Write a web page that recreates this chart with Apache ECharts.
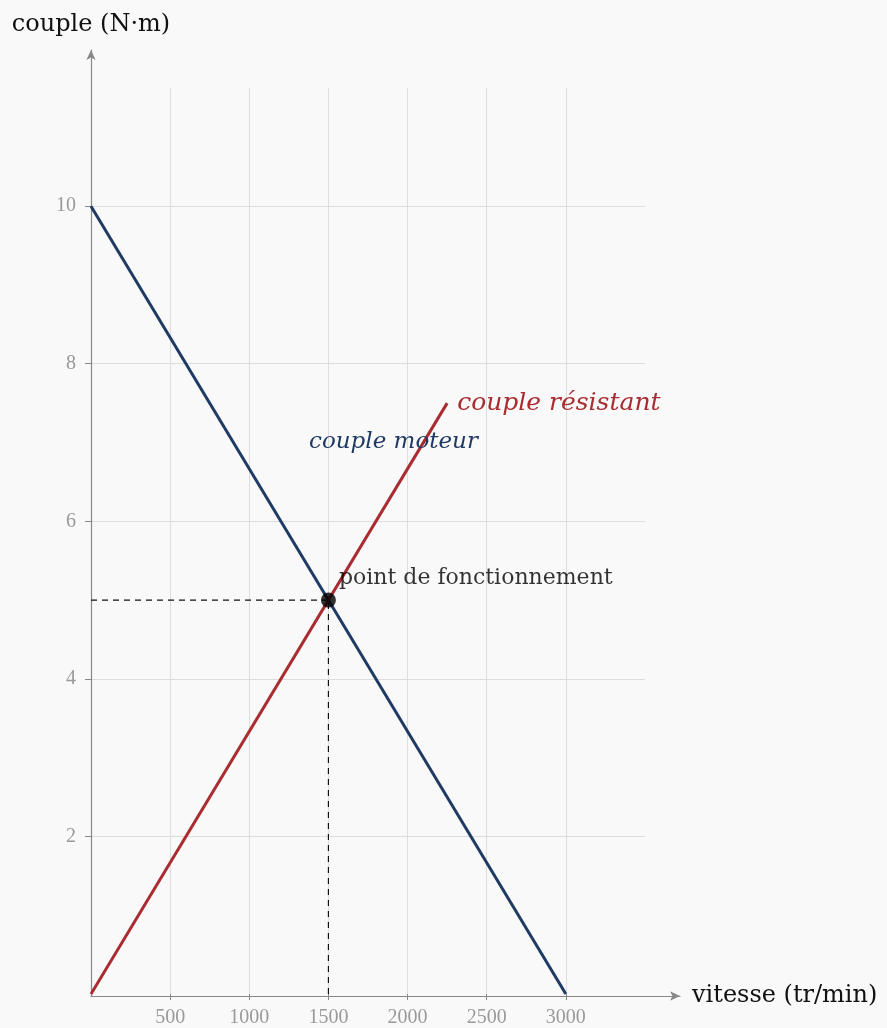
<!DOCTYPE html>
<html><head><meta charset="utf-8">
<script src="https://cdn.jsdelivr.net/npm/echarts@6/dist/echarts.min.js"></script>
<style>html,body{margin:0;padding:0;background:#f9f9f9}#c{width:887px;height:1028px}</style>
</head><body><div id="c"></div>
<script>
const xTicks = [500, 1000, 1500, 2000, 2500, 3000];
const yTicks = [2, 4, 6, 8, 10];
const moteurX = [0, 3000];
const moteurY = [10, 0];
const resistantX = [0, 2250];
const resistantY = [0, 7.5];
const pointFonct = [1500, 5];
const labelMoteurPos = [1911, 7.0];
const xName = 'vitesse (tr/min)';
const yName = 'couple (N·m)';

const SERIF = '"Liberation Serif", serif';
const WSERIF = '"DejaVu Serif", serif';
const BLUE = '#1f3a63';
const RED = '#a82c30';

const chart = echarts.init(document.getElementById('c'), null, {renderer: 'canvas'});
chart.setOption({
  backgroundColor: '#f9f9f9',
  animation: false,
  grid: [
    {left: 91, right: 242, top: 88, bottom: 32},
    {left: 91, right: 207, top: 50, bottom: 32}
  ],
  xAxis: [
    {gridIndex: 0, type: 'value', min: 0, max: 3500, interval: 500,
     axisLine: {show: false},
     axisTick: {show: true, length: 6, lineStyle: {color: '#888'}, customValues: xTicks},
     axisLabel: {color: '#999', fontFamily: SERIF, fontSize: 20, margin: 14,
       customValues: xTicks, formatter: v => String(v)},
     splitLine: {lineStyle: {color: '#ddd', width: 1}}},
    {gridIndex: 1, type: 'value', min: 0, max: 3730,
     axisLine: {show: true, lineStyle: {color: '#888', width: 1.2},
       symbol: ['none', 'arrow'], symbolSize: [7, 10]},
     axisTick: {show: false}, axisLabel: {show: false}, splitLine: {show: false},
     name: xName, nameLocation: 'end', nameGap: 12,
     nameTextStyle: {color: '#111', fontFamily: WSERIF, fontSize: 24, align: 'left', verticalAlign: 'middle'}}
  ],
  yAxis: [
    {gridIndex: 0, type: 'value', min: 0, max: 11.5, interval: 2,
     axisLine: {show: false},
     axisTick: {show: true, length: 6, lineStyle: {color: '#888'}, customValues: yTicks},
     axisLabel: {color: '#999', fontFamily: SERIF, fontSize: 20, margin: 15,
       customValues: yTicks, formatter: v => String(v)},
     splitLine: {lineStyle: {color: '#ddd', width: 1}}},
    {gridIndex: 1, type: 'value', min: 0, max: 12,
     axisLine: {show: true, lineStyle: {color: '#888', width: 1.2},
       symbol: ['none', 'arrow'], symbolSize: [7, 10]},
     axisTick: {show: false}, axisLabel: {show: false}, splitLine: {show: false},
     name: yName, nameLocation: 'end', nameGap: 13,
     nameTextStyle: {color: '#111', fontFamily: WSERIF, fontSize: 24, align: 'center', verticalAlign: 'bottom'}}
  ],
  series: [
    {type: 'line', xAxisIndex: 0, yAxisIndex: 0, symbol: 'none',
     data: [[0, pointFonct[1]], pointFonct],
     lineStyle: {color: '#111', width: 1.2, type: [6, 5]}, z: 1},
    {type: 'line', xAxisIndex: 0, yAxisIndex: 0, symbol: 'none',
     data: [[pointFonct[0], 0], pointFonct],
     lineStyle: {color: '#111', width: 1.2, type: [6, 5]}, z: 1},
    {type: 'line', name: 'couple moteur', xAxisIndex: 0, yAxisIndex: 0, symbol: 'none',
     data: moteurX.map((x, i) => [x, moteurY[i]]),
     lineStyle: {color: BLUE, width: 3}, z: 3,
     markPoint: {symbol: 'circle', symbolSize: 0,
       data: [{coord: labelMoteurPos, value: 'couple moteur'}],
       label: {show: true, position: 'inside', formatter: 'couple moteur', color: BLUE,
         fontFamily: WSERIF, fontStyle: 'italic', fontSize: 23}}},
    {type: 'line', name: 'couple résistant', xAxisIndex: 0, yAxisIndex: 0, symbol: 'none',
     data: resistantX.map((x, i) => [x, resistantY[i]]),
     lineStyle: {color: RED, width: 3}, z: 3,
     endLabel: {show: true, formatter: 'couple résistant', color: RED, distance: 10,
       fontFamily: WSERIF, fontStyle: 'italic', fontSize: 25}},
    {type: 'scatter', xAxisIndex: 0, yAxisIndex: 0, symbol: 'circle', symbolSize: 15,
     data: [pointFonct], itemStyle: {color: '#000'}, z: 5,
     label: {show: true, position: 'right', distance: 3, offset: [0, -22],
       formatter: 'point de fonctionnement', color: '#000', fontFamily: WSERIF, fontSize: 22}}
  ]
});
</script></body></html>
